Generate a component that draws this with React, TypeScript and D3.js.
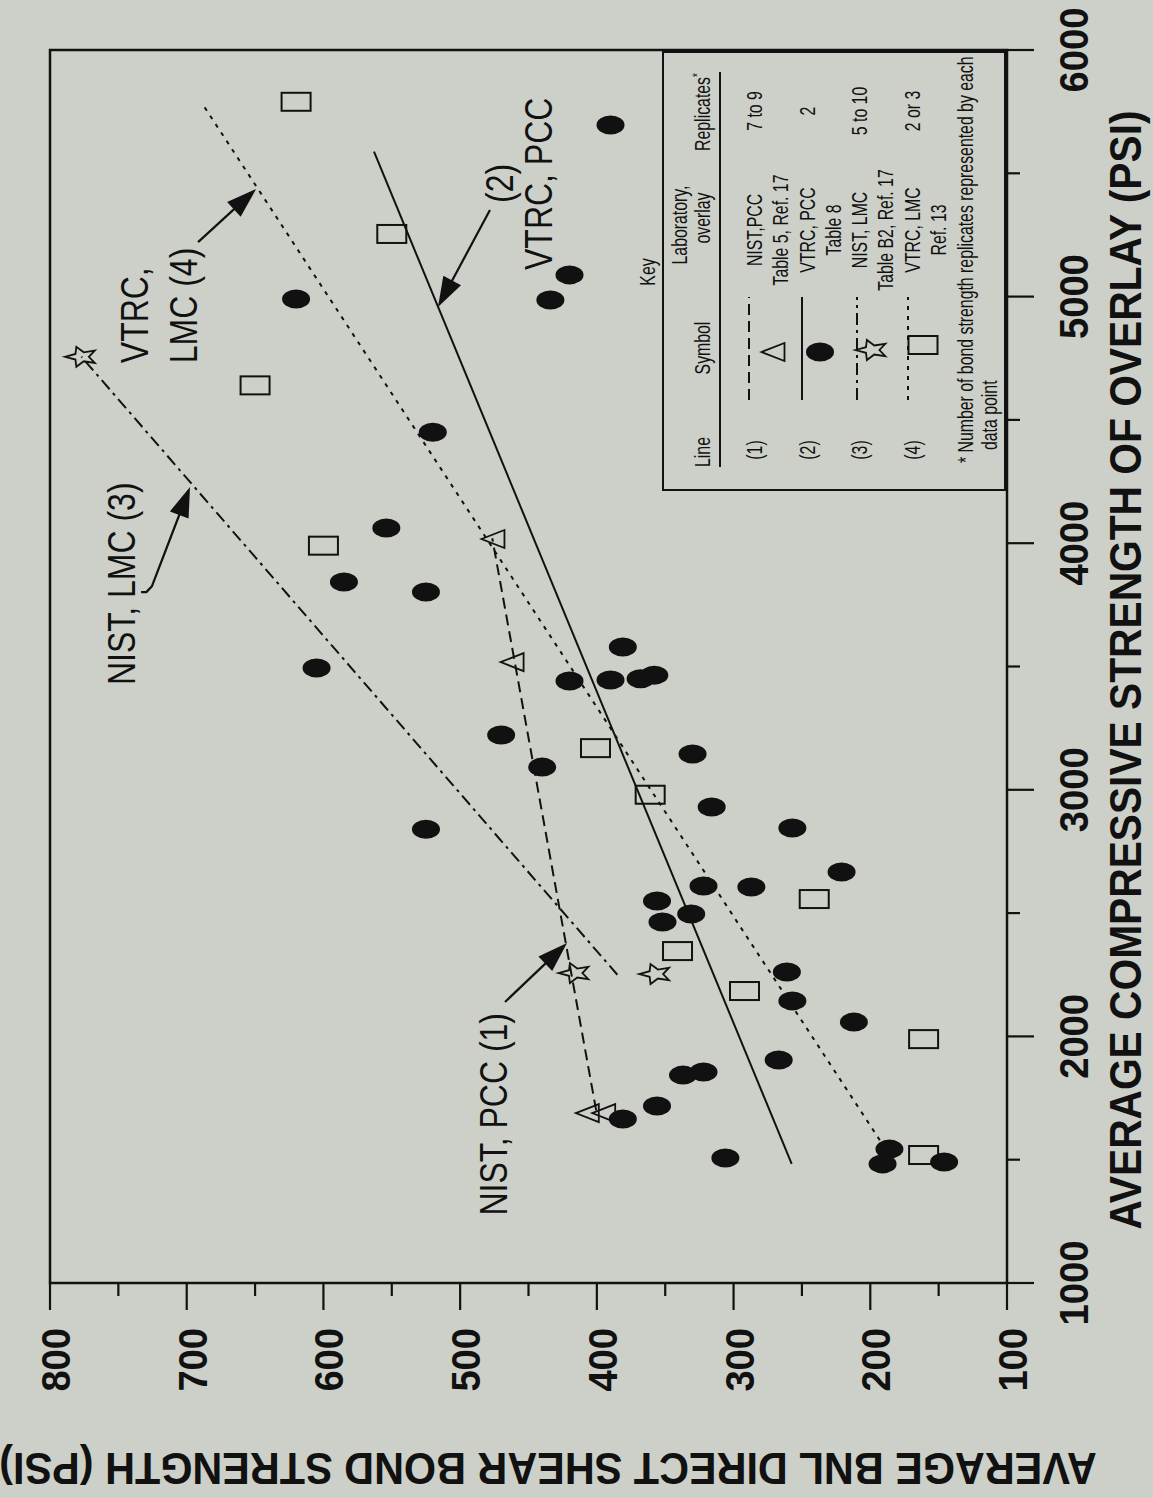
import * as d3 from 'd3';

// ---------------------------------------------------------------------------
// Bond strength vs. compressive strength of overlay (figure is printed rotated)
// values, [compressive psi, bond psi]
// ---------------------------------------------------------------------------

const vtrcPcc: [number, number][] = [
  [2840, 525], [2930, 316], [2845, 257], [2667, 221], [2610, 322], [2606, 287],
  [2549, 356], [2496, 331], [2464, 352], [2261, 261], [2144, 257], [2058, 212],
  [1904, 267], [1843, 337], [1856, 322], [1718, 356], [1665, 381], [1507, 306],
  [1543, 186], [1483, 191], [1491, 146], [4450, 520], [4062, 554], [3843, 585],
  [3802, 525], [3494, 605], [3579, 381], [3441, 420], [3445, 390], [3450, 368],
  [3465, 358], [3145, 330], [3222, 470], [3092, 440], [4990, 620], [5088, 420],
  [4986, 434], [5696, 390],
];

const vtrcLmc: [number, number][] = [
  [5790, 620], [5254, 550], [4640, 650], [3990, 600], [3169, 401], [2980, 361],
  [2557, 241], [2346, 341], [2184, 292], [1989, 161], [1519, 161],
];

const nistPcc: [number, number][] = [
  [1689, 407], [1689, 395], [3518, 462], [4017, 476],
];

const nistLmc: [number, number][] = [
  [2257, 416], [2253, 357], [4756, 777],
];

// fitted lines (1)..(4)
const line1: [number, number][] = [[1700, 400.5], [4020, 476.5]];
const line2: [number, number][] = [[1483, 257.5], [5588, 563]];
const line3: [number, number][] = [[2250, 385], [4756, 777]];
const line4: [number, number][] = [[1545, 189], [5777, 688]];

const compressiveTicks = [1000, 2000, 3000, 4000, 5000, 6000];
const compressiveMinor = [1500, 2500, 3500, 4500, 5500];
const bondTicks = [100, 200, 300, 400, 500, 600, 700, 800];
const bondMinor = [150, 250, 350, 450, 550, 650, 750];

// annotations, anchored in data space
const notes = [
  { text: 'NIST, PCC (1)', c: 2095, b: 465.7, anchor: 'end' },
  { text: 'NIST, LMC (3)', c: 3425, b: 737.8, anchor: 'start' },
  { text: 'VTRC,', c: 4730, b: 728.3, anchor: 'start' },
  { text: 'LMC (4)', c: 4730, b: 692.5, anchor: 'start' },
  { text: '(2)', c: 5380, b: 461.3, anchor: 'start' },
  { text: 'VTRC, PCC', c: 5108, b: 432.8, anchor: 'start' },
];
const arrows: [number, number][][] = [
  [[2139.5, 467.2], [2378.8, 421.8]],
  [[3802, 733.4], [3802, 729.5], [3825, 725.5], [4228, 697.6]],
  [[5221, 691.7], [5436, 649.3]],
  [[5351, 478.2], [4958, 516.2]],
];

const legendRows = [
  { line: '(1)', lab: 'NIST,PCC', ref: 'Table 5, Ref. 17', reps: '7 to 9' },
  { line: '(2)', lab: 'VTRC, PCC', ref: 'Table 8', reps: '2' },
  { line: '(3)', lab: 'NIST, LMC', ref: 'Table B2, Ref. 17', reps: '5 to 10' },
  { line: '(4)', lab: 'VTRC, LMC', ref: 'Ref. 13', reps: '2 or 3' },
];

const W = 1153;
const H = 1498;
const PW = 1233; // along compressive axis (screen up)
const PH = 957; // along bond axis (screen left->right)
const BG = '#cdd0c8';
const INK = '#111';
const FONT = '"Liberation Sans", Arial, Helvetica, sans-serif';

const DASH = { l1: '11,6', l2: undefined, l3: '12,5,3,5', l4: '4,6' } as const;

const starPath = (() => {
  const pts: string[] = [];
  for (let i = 0; i < 10; i++) {
    const a = -Math.PI / 2 + (i * Math.PI) / 5;
    const r = i % 2 === 0 ? 1 : 0.45;
    pts.push(`${(Math.cos(a) * r * 10.5).toFixed(2)},${(Math.sin(a) * r * 16.5).toFixed(2)}`);
  }
  return 'M' + pts.join('L') + 'Z';
})();
const triPath = 'M0,-11.5L9,11.5L-9,11.5Z';

function Txt({ u, v, children, size, bold = false, sx = 1, anchor = 'start', rot = 0 }: any) {
  return (
    <text
      transform={`translate(${u},${v}) rotate(${rot}) scale(${sx},1)`}
      fontSize={size}
      fontWeight={bold ? 700 : 400}
      fontFamily={FONT}
      textAnchor={anchor}
      fill={INK}
    >
      {children}
    </text>
  );
}

function Arrow({ pts }: { pts: [number, number][] }) {
  const n = pts.length;
  const [tx, ty] = pts[n - 1];
  const [px, py] = pts[n - 2];
  const len = Math.hypot(tx - px, ty - py);
  const ux = (tx - px) / len;
  const uy = (ty - py) / len;
  const hl = 30;
  const hw = 10;
  const bx = tx - ux * hl;
  const by = ty - uy * hl;
  const shaft = [...pts.slice(0, n - 1), [bx + ux * 4, by + uy * 4]];
  return (
    <g>
      <path d={'M' + shaft.map((p) => p.join(',')).join('L')} fill="none" stroke={INK} strokeWidth={2.2} />
      <path
        d={`M${tx},${ty}L${bx - uy * hw},${by + ux * hw}L${bx + uy * hw},${by - ux * hw}Z`}
        fill={INK}
      />
    </g>
  );
}

export default function App() {
  const x = d3.scaleLinear().domain([1000, 6000]).range([0, PW]);
  const y = d3.scaleLinear().domain([100, 800]).range([PH, 0]);
  const line = d3
    .line<[number, number]>()
    .x((d) => x(d[0]))
    .y((d) => y(d[1]));

  const fits = [
    { pts: line1, dash: DASH.l1 },
    { pts: line2, dash: DASH.l2 },
    { pts: line3, dash: DASH.l3 },
    { pts: line4, dash: DASH.l4 },
  ];

  const legendV = [712, 765, 817, 870];
  const legendLineV = [699, 752, 807, 858];
  const LS = 22;
  const LSX = 0.72;

  return (
    <svg
      width={W}
      height={H}
      style={{ position: 'absolute', left: 0, top: 0, display: 'block' }}
    >
      <rect width={W} height={H} fill={BG} />
      {/* whole figure is printed turned a quarter turn counter-clockwise */}
      <g transform="translate(50,1283) rotate(-90)">
        {/* fitted lines */}
        {fits.map((f, i) => (
          <path
            key={i}
            d={line(f.pts) || ''}
            fill="none"
            stroke={INK}
            strokeWidth={2}
            strokeDasharray={f.dash}
          />
        ))}

        {/* data points */}
        {vtrcPcc.map((d, i) => (
          <ellipse key={'c' + i} cx={x(d[0])} cy={y(d[1])} rx={9.5} ry={14} fill={INK} />
        ))}
        {vtrcLmc.map((d, i) => (
          <rect
            key={'s' + i}
            x={x(d[0]) - 9}
            y={y(d[1]) - 14.5}
            width={18}
            height={29}
            fill="none"
            stroke={INK}
            strokeWidth={2}
          />
        ))}
        {nistPcc.map((d, i) => (
          <path
            key={'t' + i}
            d={triPath}
            transform={`translate(${x(d[0])},${y(d[1])})`}
            fill="none"
            stroke={INK}
            strokeWidth={1.8}
          />
        ))}
        {nistLmc.map((d, i) => (
          <path
            key={'st' + i}
            d={starPath}
            transform={`translate(${x(d[0])},${y(d[1])})`}
            fill="none"
            stroke={INK}
            strokeWidth={1.8}
          />
        ))}

        {/* annotations */}
        {notes.map((n, i) => (
          <Txt key={'n' + i} u={x(n.c)} v={y(n.b)} size={39} sx={0.82} anchor={n.anchor}>
            {n.text}
          </Txt>
        ))}
        {arrows.map((a, i) => (
          <Arrow key={'a' + i} pts={a.map((p) => [x(p[0]), y(p[1])] as [number, number])} />
        ))}

        {/* key */}
        <rect x={793} y={613} width={438} height={342} fill={BG} stroke={INK} strokeWidth={2} />
        <Txt u={1011} v={605} size={LS} sx={LSX} anchor="middle">Key</Txt>
        <Txt u={1058} v={637} size={LS} sx={LSX} anchor="middle">Laboratory,</Txt>
        <Txt u={831} v={660} size={LS} sx={LSX} anchor="middle">Line</Txt>
        <Txt u={935} v={660} size={LS} sx={LSX} anchor="middle">Symbol</Txt>
        <Txt u={1065} v={660} size={LS} sx={LSX} anchor="middle">overlay</Txt>
        <Txt u={1171} v={660} size={LS} sx={LSX} anchor="middle">
          Replicates<tspan fontSize={14} dy={-8}>*</tspan>
        </Txt>
        <line x1={816} x2={1211} y1={670} y2={670} stroke={INK} strokeWidth={2} />
        {legendRows.map((r, i) => (
          <g key={'lg' + i}>
            <Txt u={833} v={legendV[i]} size={LS} sx={LSX} anchor="middle">{r.line}</Txt>
            <line
              x1={883}
              x2={986}
              y1={legendLineV[i]}
              y2={legendLineV[i]}
              stroke={INK}
              strokeWidth={2}
              strokeDasharray={fits[i].dash}
            />
            <Txt u={1053} v={legendV[i]} size={LS} sx={LSX} anchor="middle">{r.lab}</Txt>
            <Txt u={1053} v={legendV[i] + 26} size={LS} sx={LSX} anchor="middle">{r.ref}</Txt>
            <Txt u={1172} v={legendV[i]} size={LS} sx={LSX} anchor="middle">{r.reps}</Txt>
          </g>
        ))}
        <path d={triPath} transform="translate(931,723)" fill="none" stroke={INK} strokeWidth={1.8} />
        <ellipse cx={931} cy={770} rx={9.5} ry={14} fill={INK} />
        <path d={starPath} transform="translate(933,822)" fill="none" stroke={INK} strokeWidth={1.8} />
        <rect x={929} y={858.5} width={18} height={29} fill="none" stroke={INK} strokeWidth={2} />
        <Txt u={820} v={923} size={LS} sx={LSX}>
          * Number of bond strength replicates represented by each
        </Txt>
        <Txt u={833} v={947} size={LS} sx={LSX}>data point</Txt>

        {/* frame */}
        <rect x={0} y={0} width={PW} height={PH} fill="none" stroke={INK} strokeWidth={2.5} />

        {/* compressive-strength axis */}
        {compressiveTicks.map((t) => (
          <g key={'xt' + t}>
            <line x1={x(t)} x2={x(t)} y1={PH} y2={PH + 27} stroke={INK} strokeWidth={2.2} />
            <Txt u={x(t)} v={PH + 81} size={41} bold sx={0.93} anchor="middle">{t}</Txt>
          </g>
        ))}
        {compressiveMinor.map((t) => (
          <line key={'xm' + t} x1={x(t)} x2={x(t)} y1={PH} y2={PH + 13} stroke={INK} strokeWidth={2.2} />
        ))}
        <Txt u={613} v={1091} size={45} bold sx={0.905} anchor="middle">
          AVERAGE COMPRESSIVE STRENGTH OF OVERLAY (PSI)
        </Txt>

        {/* bond-strength axis */}
        {bondTicks.map((t) => (
          <g key={'yt' + t}>
            <line x1={0} x2={-27} y1={y(t)} y2={y(t)} stroke={INK} strokeWidth={2.2} />
            <Txt u={-45} v={y(t) + 20} size={41} bold sx={0.93} anchor="end">{t}</Txt>
          </g>
        ))}
        {bondMinor.map((t) => (
          <line key={'ym' + t} x1={0} x2={-13} y1={y(t)} y2={y(t)} stroke={INK} strokeWidth={2.2} />
        ))}
        <Txt u={-170} v={498} size={45} bold sx={0.92} anchor="middle" rot={-90}>
          AVERAGE BNL DIRECT SHEAR BOND STRENGTH (PSI)
        </Txt>
      </g>
    </svg>
  );
}
